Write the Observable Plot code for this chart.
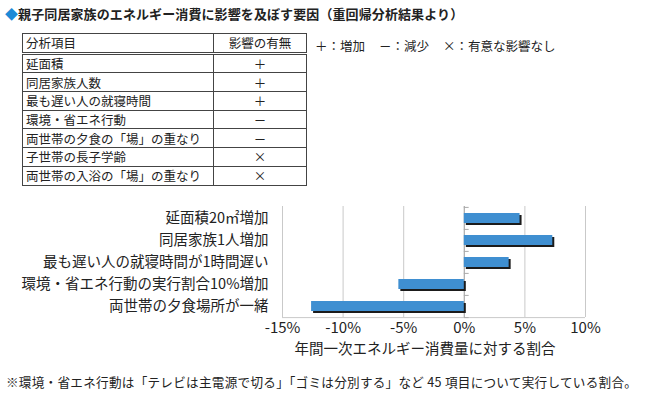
<!DOCTYPE html>
<html><head><meta charset="utf-8">
<script src="https://cdn.jsdelivr.net/npm/d3@7"></script>
<script src="https://cdn.jsdelivr.net/npm/@observablehq/plot@0.6"></script>
<style>
  html,body{margin:0;padding:0;background:#fff;}
  body{width:650px;height:395px;position:relative;overflow:hidden;font-family:"Noto Sans CJK JP","Noto Sans",sans-serif;color:#222;}
  #title{position:absolute;left:5px;top:4px;font-size:13px;font-weight:bold;white-space:nowrap;letter-spacing:0.1px;}
  #title .dia{color:#1c8ad6;}
  table{position:absolute;left:22px;top:33px;border-collapse:collapse;font-size:12.5px;table-layout:fixed;}
  td,th{border:1px solid #444;height:17.7px;padding:0 3px;line-height:17px;font-weight:normal;white-space:nowrap;}
  th{border-bottom:3px double #444;}
  td.c,th.c{text-align:center;}
  td.l,th.l{text-align:left;}
  #legend{position:absolute;left:315px;top:36px;font-size:12.5px;white-space:nowrap;}
  #legend span{margin-right:14px;}
  #chart{position:absolute;left:0;top:200px;}
  #note{position:absolute;left:6px;top:372px;font-size:12.6px;white-space:nowrap;letter-spacing:0.27px;}
</style>
</head><body>
<div id="title"></div>
<table id="tbl"></table>
<div id="legend"></div>
<div id="chart"></div>
<div id="note"></div>
<script>
// ---- data ----
const titleText = "親子同居家族のエネルギー消費に影響を及ぼす要因（重回帰分析結果より）";
const tableHeader = ["分析項目", "影響の有無"];
const tableItems = ["延面積", "同居家族人数", "最も遅い人の就寝時間", "環境・省エネ行動", "両世帯の夕食の「場」の重なり", "子世帯の長子学齢", "両世帯の入浴の「場」の重なり"];
const tableEffects = ["＋", "＋", "＋", "－", "－", "×", "×"];
const legendSymbols = ["＋", "－", "×"];
const legendMeanings = ["増加", "減少", "有意な影響なし"];
const categories = ["延面積20㎡増加", "同居家族1人増加", "最も遅い人の就寝時間が1時間遅い", "環境・省エネ行動の実行割合10%増加", "両世帯の夕食場所が一緒"];
const values = [4.6, 7.3, 3.7, -5.4, -12.6];
const xTicks = [-15, -10, -5, 0, 5, 10];
const xLabel = "年間一次エネルギー消費量に対する割合";
const noteText = "※環境・省エネ行動は「テレビは主電源で切る」「ゴミは分別する」など 45 項目について実行している割合。";

// ---- header / table ----
document.getElementById("title").innerHTML = '<span class="dia">◆</span>' + titleText;
const tbl = document.getElementById("tbl");
tbl.innerHTML = '<colgroup><col style="width:191px"><col style="width:93px"></colgroup>' +
  `<tr><th class="l">${tableHeader[0]}</th><th class="c">${tableHeader[1]}</th></tr>` +
  tableItems.map((t, i) => `<tr><td class="l">${t}</td><td class="c">${tableEffects[i]}</td></tr>`).join("");
document.getElementById("legend").innerHTML = legendSymbols.map((s, i) => `<span>${s}：${legendMeanings[i]}</span>`).join("");
document.getElementById("note").textContent = noteText;

// ---- chart ----
const data = categories.map((c, i) => ({category: c, value: values[i]}));
const H = 165, MT = 6, MB = 48;
const step = (H - MT - MB) / categories.length;
const gridColor = "#c9c9c9";
const chart = Plot.plot({
  width: 650,
  height: H,
  marginTop: MT,
  marginBottom: MB,
  marginLeft: 282,
  marginRight: 65,
  style: {fontFamily: '"Noto Sans CJK JP","Noto Sans",sans-serif', color: "#222", background: "#fff"},
  x: {domain: [-15, 10], ticks: xTicks},
  y: {domain: categories, paddingInner: 0.56, paddingOuter: 0.28},
  marks: [
    Plot.ruleX(xTicks, {stroke: gridColor, strokeWidth: 1}),
    Plot.ruleY([categories[categories.length - 1]], {x1: xTicks[0], x2: xTicks[xTicks.length - 1], dy: step / 2, stroke: gridColor}),
    Plot.ruleX([0], {stroke: "#aaa"}),
    Plot.ruleY(categories, {x1: 0, x2: 0.4, dy: -step / 2, stroke: "#aaa"}),
    Plot.ruleY([categories[categories.length - 1]], {x1: 0, x2: 0.4, dy: step / 2, stroke: "#aaa"}),
    Plot.barX(data, {x: "value", y: "category", fill: "#1b1b1b", dx: 2, dy: 2}),
    Plot.barX(data, {x: "value", y: "category", fill: "#3f8fd1"}),
    Plot.axisX({ticks: xTicks, tickSize: 0, tickPadding: 5, tickFormat: d => d + "%", fontSize: 15, label: null}),
    Plot.axisY({tickSize: 0, tickPadding: 14, fontSize: 14.5, label: null}),
    Plot.text([xLabel], {text: d => d, frameAnchor: "bottom", dy: 36, dx: -9, fontSize: 14.5, fill: "#222"})
  ]
});
document.getElementById("chart").appendChild(chart);
</script>
</body></html>
